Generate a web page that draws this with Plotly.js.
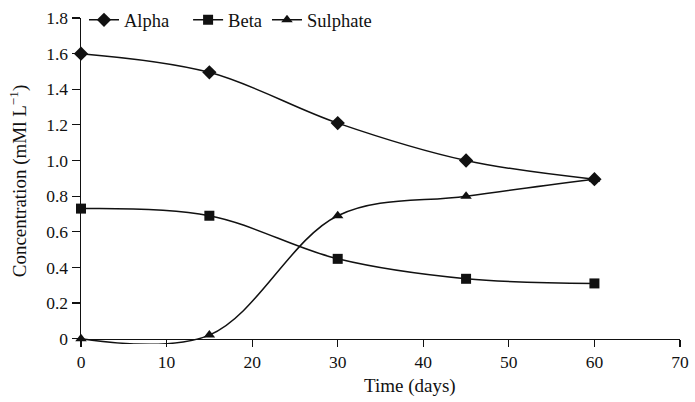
<!DOCTYPE html>
<html>
<head>
<meta charset="utf-8">
<script src="https://cdn.plot.ly/plotly-3.0.1.min.js"></script>
<style>html,body{margin:0;padding:0;background:#fff;}#chart{width:695px;height:402px;}</style>
</head>
<body>
<div id="chart"></div>
<script>
const days = [0, 15, 30, 45, 60];
const alpha = [1.60, 1.495, 1.21, 1.00, 0.895];
const beta = [0.73, 0.69, 0.448, 0.336, 0.31];
const sulphate = [0.0, 0.02, 0.69, 0.80, 0.895];
const seriesNames = ['Alpha', 'Beta', 'Sulphate'];
const yTickVals = [0, 0.2, 0.4, 0.6, 0.8, 1.0, 1.2, 1.4, 1.6, 1.8];
const yTickText = ['0', '0.2', '0.4', '0.6', '0.8', '1.0', '1.2', '1.4', '1.6', '1.8'];
const xTickVals = [0, 10, 20, 30, 40, 50, 60, 70];

const FONT = 'Liberation Serif, Times New Roman, serif';
const yMin = -0.03, yMax = 1.8;
const NB = '\u00a0';

function tr(name, pad, y, sym, size) {
  return {
    x: days, y: y, name: name + NB.repeat(pad), type: 'scatter', mode: 'lines+markers',
    line: {color: '#111', width: 1.5, shape: 'spline', smoothing: 1},
    marker: {symbol: sym, size: size, color: '#111'},
    cliponaxis: false
  };
}

const data = [
  tr(seriesNames[0], 3, alpha, 'diamond', 11),
  tr(seriesNames[1], 0, beta, 'square', 10),
  tr(seriesNames[2], 0, sulphate, 'triangle-up', 10)
];

const layout = {
  width: 695, height: 402,
  margin: {l: 81, r: 15, t: 18, b: 58, autoexpand: false},
  paper_bgcolor: '#fff', plot_bgcolor: '#fff',
  font: {family: FONT, size: 17.5, color: '#111'},
  showlegend: true,
  legend: {orientation: 'h', x: 0.005, xanchor: 'left', y: 0.993, yanchor: 'middle',
           font: {family: FONT, size: 18.5, color: '#111'}, bgcolor: 'rgba(0,0,0,0)',
           itemwidth: 30, tracegroupgap: 0},
  xaxis: {
    range: [0, 70], tickvals: xTickVals, ticks: 'outside', ticklen: 7, tickwidth: 1.2,
    tickcolor: '#111', showline: true, linecolor: '#111', linewidth: 1.5,
    showgrid: false, zeroline: false, anchor: 'free', position: (0 - yMin) / (yMax - yMin),
    tickfont: {family: FONT, size: 17.5, color: '#111'}
  },
  yaxis: {
    range: [yMin, yMax], tickvals: yTickVals, ticktext: yTickText, ticks: 'outside', ticklen: 8,
    tickwidth: 1.2, tickcolor: '#111', showline: true, linecolor: '#111', linewidth: 1.5,
    showgrid: false, zeroline: false,
    tickfont: {family: FONT, size: 17.5, color: '#111'},
    title: {text: 'Concentration (mMl L<sup>\u22121</sup>)', font: {family: FONT, size: 19, color: '#111'}, standoff: 14}
  },
  annotations: [{
    text: 'Time (days)', xref: 'paper', yref: 'paper', x: 0.549, y: -0.13,
    xanchor: 'center', yanchor: 'middle', showarrow: false,
    font: {family: FONT, size: 19, color: '#111'}
  }]
};

Plotly.newPlot('chart', data, layout, {displayModeBar: false, staticPlot: true});
</script>
</body>
</html>
